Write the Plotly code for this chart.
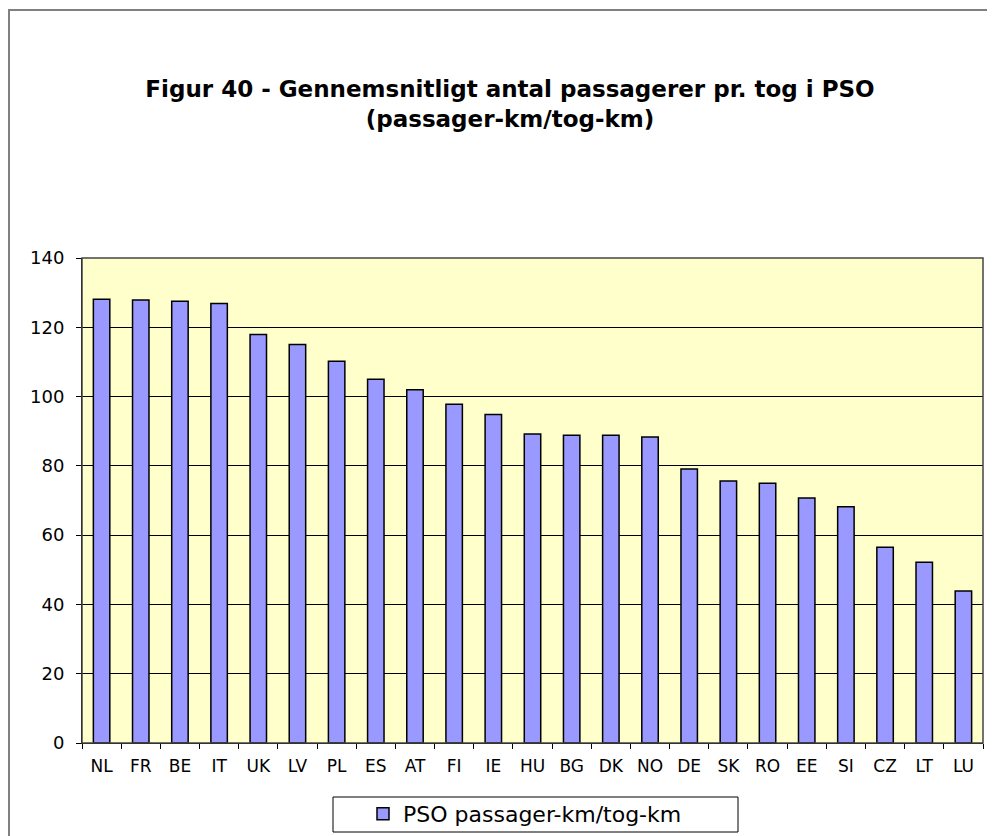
import plotly.graph_objects as go

countries = ["NL", "FR", "BE", "IT", "UK", "LV", "PL", "ES", "AT", "FI", "IE", "HU",
             "BG", "DK", "NO", "DE", "SK", "RO", "EE", "SI", "CZ", "LT", "LU"]
values = [128.1, 127.9, 127.5, 126.9, 117.9, 115.0, 110.2, 105.0, 102.0, 97.8, 94.8, 89.2,
          88.8, 88.8, 88.3, 79.1, 75.6, 75.0, 70.7, 68.2, 56.5, 52.2, 43.9]
y_ticks = [0, 20, 40, 60, 80, 100, 120, 140]
series_name = "PSO passager-km/tog-km"
title_text = "Figur 40 - Gennemsnitligt antal passagerer pr. tog i PSO<br>(passager-km/tog-km)"

# page body has an 8px margin, so the figure is laid out in shifted coordinates
W, H = 987, 828
L, T = 74, 250
PR, PB = 975, 735            # plot right / bottom in figure px
R, B = W - PR, H - PB
pw, ph = PR - L, PB - T


def px_x(x):
    return (x - L) / pw


def px_y(y):
    return (PB - y) / ph


fig = go.Figure()
fig.add_trace(go.Bar(
    x=countries, y=values, name=series_name,
    marker=dict(color="#9999FF", line=dict(color="#000000", width=1.5)),
    showlegend=True,
))

font_main = "DejaVu Sans, Verdana, sans-serif"

fig.update_layout(
    width=W, height=H,
    margin=dict(l=L, r=R, t=T, b=B, autoexpand=False),
    paper_bgcolor="white",
    plot_bgcolor="#FFFFCC",
    bargap=0.58,
    title=dict(text="<b>" + title_text + "</b>", x=502 / W, xref="container", xanchor="center",
               y=1 - 89 / H, yref="container", yanchor="top",
               font=dict(family=font_main, size=23, color="#000000")),
    xaxis=dict(type="category", showgrid=False, showline=True, linecolor="#000000", linewidth=1,
               ticks="outside", tickson="boundaries", ticklen=5, tickcolor="#000000",
               ticklabelstandoff=8,
               tickfont=dict(family=font_main, size=17, color="#000000")),
    yaxis=dict(range=[0, 140], tickvals=y_ticks, showgrid=True, gridcolor="#000000", gridwidth=1,
               showline=True, linecolor="#000000", linewidth=1, zeroline=False,
               ticks="outside", ticklen=5, tickcolor="#000000",
               ticklabelstandoff=8,
               tickfont=dict(family=font_main, size=18, color="#000000")),
    legend=dict(orientation="h", x=px_x(355), xanchor="left", y=px_y(806),
                yanchor="middle", bgcolor="rgba(0,0,0,0)", borderwidth=0,
                font=dict(family=font_main, size=22, color="#000000")),
    shapes=[
        dict(type="rect", xref="paper", yref="paper", x0=0, x1=1, y0=0, y1=1,
             line=dict(color="#444444", width=1.5), layer="above"),
        dict(type="rect", xref="paper", yref="paper",
             x0=px_x(325), x1=px_x(730), y0=px_y(824), y1=px_y(789),
             line=dict(color="#000000", width=1), fillcolor="white", layer="below"),
        dict(type="rect", xref="paper", yref="paper",
             x0=px_x(1), x1=px_x(W + 20), y0=px_y(H + 20), y1=px_y(2),
             line=dict(color="#808080", width=2), layer="above"),
    ],
)

fig.write_html("out.html")
